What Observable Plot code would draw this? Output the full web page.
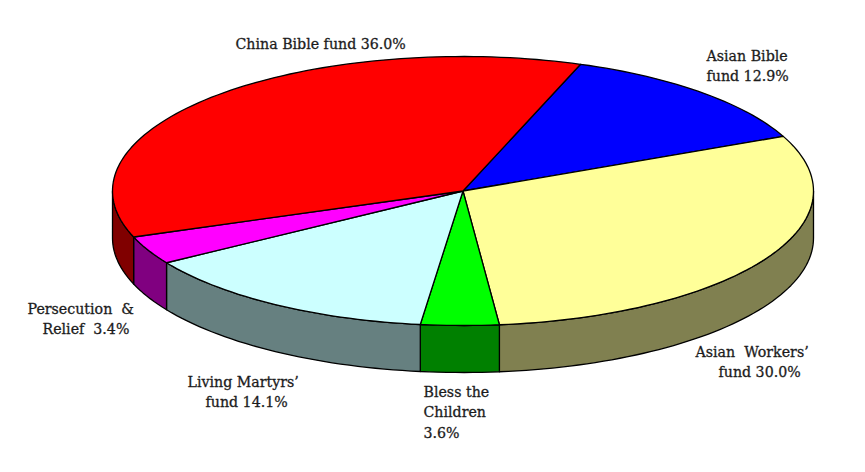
<!DOCTYPE html>
<html>
<head>
<meta charset="utf-8">
<style>
html,body{margin:0;padding:0;background:#fff;}
svg{display:block;}
</style>
<script src="https://cdn.jsdelivr.net/npm/d3@7"></script>
<script src="https://cdn.jsdelivr.net/npm/@observablehq/plot@0.6"></script>
</head>
<body>
<div id="chart"></div>
<script>
const categories = ["Asian Bible fund","Asian Workers' fund","Bless the Children","Living Martyrs' fund","Persecution & Relief","China Bible fund"];
const values = [12.9,30.0,3.6,14.1,3.4,36.0];
const topColors = ["#0000ff","#ffff99","#00ff00","#ccffff","#ff00ff","#ff0000"];
const sideColors = ["#000080","#808050","#008000","#668080","#800080","#800000"];
const labelLines = ["China Bible fund 36.0%","Asian Bible","fund 12.9%","Asian  Workers’","fund 30.0%","Bless the","Children","3.6%","Living Martyrs’","fund 14.1%","Persecution  &","Relief  3.4%"];
const labelX = [235,706,706,695,718,423,423,423,187,205,27,42];
const labelY = [44,56,76,352,372,392,412,433,382,402,309,329];

const cx=462.5, cy=190.5, rx=350.5, ry=134.5, depth=47, startDeg=70.4;
const rad=d=>d*Math.PI/180;
const pt=(deg,dz=0)=>({x:cx+rx*Math.cos(rad(deg)),y:cy-ry*Math.sin(rad(deg))+dz});
function arc(a0,a1,dz=0){ // a0 > a1, clockwise
  const n=Math.max(2,Math.ceil((a0-a1)/1.5)); const out=[];
  for(let i=0;i<=n;i++) out.push(pt(a0+(a1-a0)*i/n,dz));
  return out;
}
const total=d3.sum(values);
let cursor=startDeg;
const slices=values.map((v,i)=>{const a0=cursor; const a1=a0-v/total*360; cursor=a1; return {i,a0,a1};});
const sideRows=[], topRows=[];
slices.forEach(({i,a0,a1})=>{
  // visible wall: the part of the arc in the lower half of the ellipse
  const ranges=[[a0,a1],[a0-360,a1-360],[a0+360,a1+360]];
  ranges.forEach(([p,q],k)=>{
    const s=Math.min(p,0), e=Math.max(q,-180);
    if(s>e){
      const up=arc(s,e), down=arc(s,e,depth).reverse();
      [...up,...down,up[0]].forEach(o=>sideRows.push({...o,key:`s${i}${k}`,fill:sideColors[i]}));
    }
  });
  const poly=[{x:cx,y:cy},...arc(a0,a1),{x:cx,y:cy}];
  poly.forEach(o=>topRows.push({...o,key:`t${i}`,fill:topColors[i]}));
});
const labels=labelLines.map((t,i)=>({t,x:labelX[i],y:labelY[i]}));
const shape=rows=>Plot.line(rows,{x:"x",y:"y",z:"key",fill:"fill",stroke:"#000",strokeWidth:1.3,strokeLinejoin:"round",curve:"linear"});
const chart=Plot.plot({
  width:865,height:472,margin:0,
  x:{domain:[0,865],range:[0,865],axis:null},
  y:{domain:[0,472],range:[0,472],axis:null},
  color:{type:"identity"},
  marks:[
    shape(sideRows),
    shape(topRows),
    Plot.text(labels,{x:"x",y:"y",text:"t",textAnchor:"start",lineAnchor:"middle",fontSize:14.2,fontFamily:"'DejaVu Serif'",fill:"#1c1c1c",stroke:"#1c1c1c",strokeWidth:0.3})
  ]
});
document.getElementById("chart").append(chart);
</script>
</body>
</html>
